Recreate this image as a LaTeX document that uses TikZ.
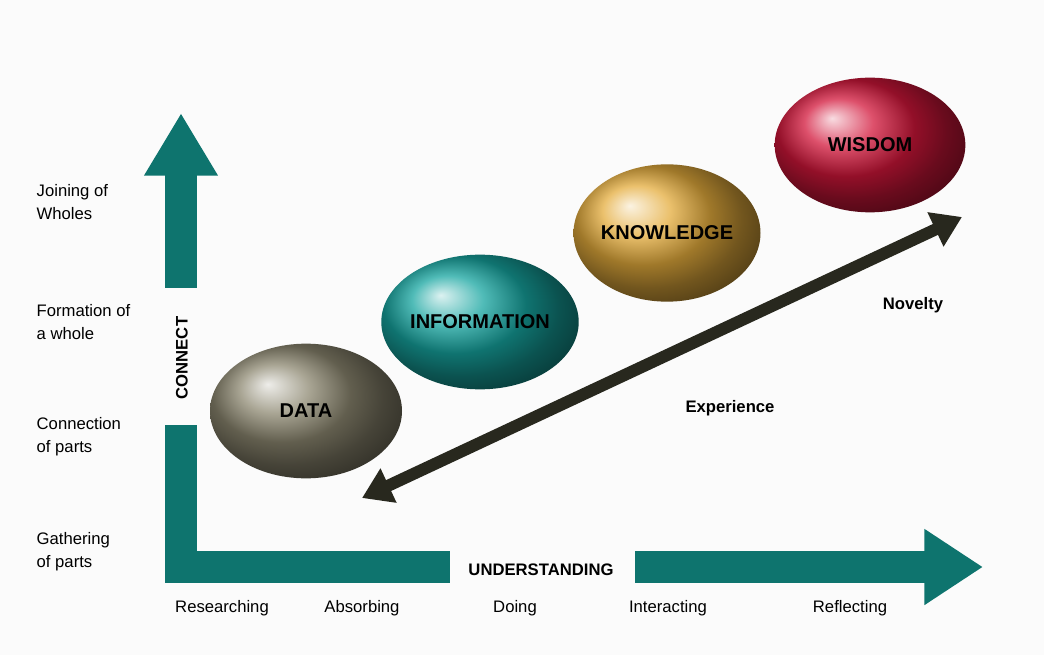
\documentclass[tikz,border=0pt]{standalone}
\usepackage{fontspec}
\setmainfont{Liberation Sans}
\definecolor{AxisTeal}{RGB}{14,116,110}
\definecolor{ExpDark}{RGB}{40,40,30}
\definecolor{DataGray}{RGB}{140,135,112}
\definecolor{InfoTeal}{RGB}{22,165,160}
\definecolor{KnowGold}{RGB}{228,172,60}
\definecolor{WisRed}{RGB}{210,22,58}
\usetikzlibrary{shapes.geometric,arrows.meta,positioning}

\begin{document}
\begin{tikzpicture}[x=0.75pt,y=-0.75pt,
    every node/.style={font=\fontsize{12.5}{17}\selectfont},
    lvl/.style={anchor=west,align=left},
    act/.style={anchor=center},
    tag/.style={font=\fontsize{12.5}{15}\selectfont\bfseries},
    sphere/.style={ellipse,inner sep=0pt,shading=ball,ball color=#1,
                   font=\fontsize{15}{18}\selectfont\bfseries},
    axis/.style={AxisTeal,line width=24pt},
    exparr/.style={ExpDark,line width=9pt,
                   {Triangle[length=22pt,width=27pt]}-{Triangle[length=22pt,width=27pt]}}]
    \useasboundingbox[fill=gray!3] (0,0) rectangle (1044,655);
    % connect axis
    \coordinate (cTop) at (181,113);
    \coordinate (cMid) at (181,288);
    \coordinate (cLow) at (181,425);
    \coordinate (uLeft) at (450,567);
    \coordinate (uRight) at (635,567);
    \coordinate (uTip) at (983,567);
    \draw[axis,-{Triangle[length=47pt,width=52pt]}] (cMid) -- (cTop);
    \draw[axis,line join=miter] (cLow) |- (uLeft);
    \draw[axis,-{Triangle[length=44pt,width=54pt]}] (uRight) -- (uTip);
    \node[tag,rotate=90] (connect) at (182,358) {CONNECT};
    \node[tag] (underst) at (541,570) {UNDERSTANDING};
    % levels
    \node[lvl] (l1) at (32,202) {Joining of\\Wholes};
    \node[lvl] (l2) at (32,322) {Formation of\\a whole};
    \node[lvl] (l3) at (32,437) {Connection\\of parts};
    \node[lvl] (l4) at (32,552) {Gathering\\of parts};
    % activities
    \node[act] (a1) at (222,608) {Researching};
    \node[act] (a2) at (362,608) {Absorbing};
    \node[act] (a3) at (515,608) {Doing};
    \node[act] (a4) at (668,608) {Interacting};
    \node[act] (a5) at (850,608) {Reflecting};
    % spheres
    \node[sphere=DataGray,minimum width=144pt,minimum height=101pt] (data) at (306,411) {DATA};
    \node[sphere=InfoTeal,minimum width=124pt,minimum height=101pt] (info) at (480,322) {INFORMATION};
    \node[sphere=KnowGold,minimum width=124pt,minimum height=103pt] (know) at (667,233) {KNOWLEDGE};
    \node[sphere=WisRed,minimum width=143pt,minimum height=101pt] (wis) at (870,145) {WISDOM};
    % experience
    \coordinate (eLow) at (362,498);
    \coordinate (eHigh) at (962,217);
    \draw[exparr] (eLow) -- (eHigh);
    \node[tag] (novel) at (913,305) {Novelty};
    \node[tag] (exper) at (730,408) {Experience};
\end{tikzpicture}
\end{document}
